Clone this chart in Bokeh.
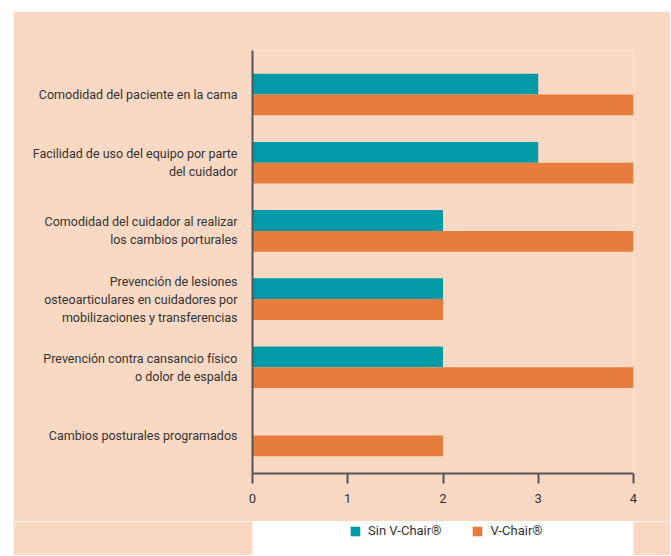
from bokeh.plotting import figure
from bokeh.layouts import column
from bokeh.models import ColumnDataSource, Range1d, FixedTicker, Legend, LegendItem
from bokeh.embed import file_html
from bokeh.resources import INLINE

categories = [
    "Comodidad del paciente en la cama",
    "Facilidad de uso del equipo por parte\ndel cuidador",
    "Comodidad del cuidador al realizar\nlos cambios porturales",
    "Prevención de lesiones\nosteoarticulares en cuidadores por\nmobilizaciones y transferencias",
    "Prevención contra cansancio físico\no dolor de espalda",
    "Cambios posturales programados",
]
sin_vchair = [3, 3, 2, 2, 2, 0]
vchair = [4, 4, 4, 2, 4, 2]
x_ticks = [0, 1, 2, 3, 4]
series_names = ["Sin V-Chair®", "V-Chair®"]

TEAL = "#009BA7"
ORANGE = "#E87C3D"
BG = "#F9D9C3"
FONT = "Roboto"
TXT = "#333333"
AX = "#555555"

pos = list(range(len(categories)))
bar_h = 0.305
src = ColumnDataSource(dict(
    y_sin=[p_ - bar_h / 2 for p_ in pos],
    y_vc=[p_ + bar_h / 2 for p_ in pos],
    sin=sin_vchair,
    vc=vchair,
))

p = figure(width=657, height=510, output_backend="svg", toolbar_location=None,
           x_range=Range1d(0, 4), y_range=Range1d(5.557, -0.645),
           min_border_left=239, min_border_right=37, min_border_top=39,
           min_border_bottom=48, margin=(11, 0, 0, 13))
p.background_fill_color = BG
p.border_fill_color = BG
p.outline_line_color = None
p.grid.visible = False

p.hbar(y="y_sin", left=0, right="sin", height=bar_h, source=src,
       fill_color=TEAL, line_color=None)
p.hbar(y="y_vc", left=0, right="vc", height=bar_h, source=src,
       fill_color=ORANGE, line_color=None)

# y axis
p.yaxis.ticker = FixedTicker(ticks=pos)
p.yaxis.major_label_overrides = {i: c for i, c in enumerate(categories)}
p.yaxis.major_tick_line_color = None
p.yaxis.minor_tick_line_color = None
p.yaxis.major_tick_out = 0
p.yaxis.major_label_standoff = 15
p.yaxis.axis_line_color = AX
p.yaxis.axis_line_width = 2
p.yaxis.major_label_text_font = FONT
p.yaxis.major_label_text_font_size = "12.5px"
p.yaxis.major_label_text_color = TXT

# x axis
p.xaxis.ticker = FixedTicker(ticks=x_ticks)
p.xaxis.axis_line_color = AX
p.xaxis.axis_line_width = 2
p.xaxis.major_tick_line_color = AX
p.xaxis.major_tick_line_width = 2
p.xaxis.major_tick_in = 0
p.xaxis.major_tick_out = 10
p.xaxis.minor_tick_line_color = None
p.xaxis.major_label_standoff = 10
p.xaxis.major_label_text_font = FONT
p.xaxis.major_label_text_font_size = "13px"
p.xaxis.major_label_text_color = TXT

# legend strip (separate small figure below the chart; its frame aligns with the chart's)
lf = figure(width=657, height=34, output_backend="svg", toolbar_location=None,
            x_range=Range1d(0, 1), y_range=Range1d(0, 1),
            min_border=0, margin=(0, 0, 0, 13))
lf.background_fill_color = None
lf.border_fill_color = BG
lf.outline_line_color = None
lf.grid.visible = False
lf.axis.visible = False
# legend-key renderers, placed outside the strip's visible range
lr1 = lf.hbar(y=[5], left=[5], right=[6], height=0.1, fill_color=TEAL, line_color=None)
lr2 = lf.hbar(y=[5], left=[5], right=[6], height=0.1, fill_color=ORANGE, line_color=None)

legend = Legend(items=[LegendItem(label=series_names[0], renderers=[lr1]),
                       LegendItem(label=series_names[1], renderers=[lr2])],
                orientation="horizontal", location=(97, 17))
legend.background_fill_alpha = 0
legend.border_line_color = None
legend.label_text_font = FONT
legend.label_text_font_size = "13px"
legend.label_text_color = TXT
legend.glyph_width = 12
legend.glyph_height = 12
legend.spacing = 30
legend.label_standoff = 7
legend.padding = 0
legend.margin = 0
lf.add_layout(legend, "center")

layout = column(p, lf, spacing=0)
open("out.html", "w").write(file_html(layout, INLINE))
